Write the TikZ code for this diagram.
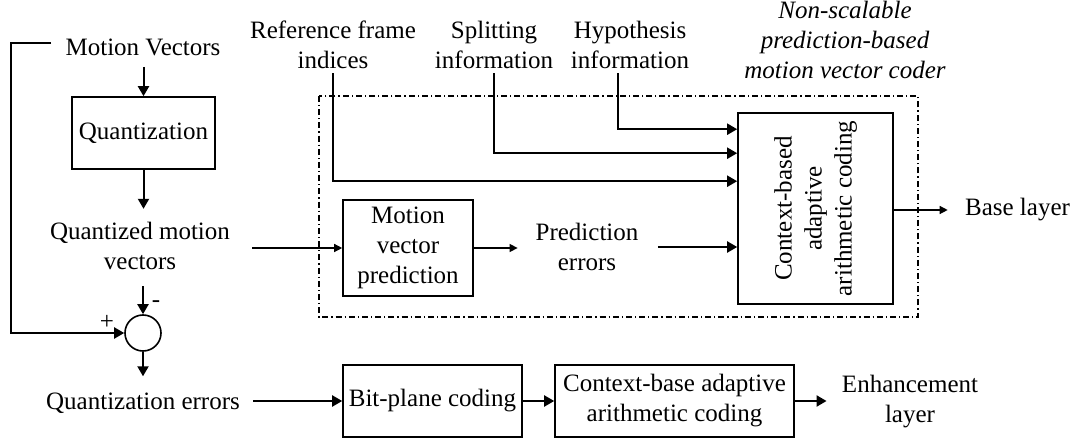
\documentclass[tikz,border=0pt]{standalone}
\usepackage{fontspec}
\setmainfont{Liberation Serif}
\usetikzlibrary{arrows.meta}

\begin{document}
\begin{tikzpicture}[x=0.5pt,y=-0.5pt,
    font=\fontsize{12.5}{15}\selectfont,
    blk/.style={draw,line width=0.8pt,inner sep=2pt,align=center},
    txt/.style={align=center,inner sep=2pt},
    arr/.style={line width=1pt,-{Triangle[length=5pt,width=5.5pt]}},
    arrs/.style={line width=0.65pt,-{Triangle[length=4pt,width=4pt]}},
    frame/.style={line width=0.6pt,dash pattern=on 3pt off 1.5pt on 0.6pt off 1.5pt}]

  \useasboundingbox (0,0) rectangle (1077,443);

  \node[txt] (mv)     at (143,47)    {Motion Vectors};
  \node[blk,minimum width=71.5pt,minimum height=36pt] (quant) at (143.5,133) {Quantization};
  \node[txt] (qmv)    at (140,246)   {Quantized motion\\vectors};
  \node[circle,draw,line width=0.8pt,minimum size=18pt,inner sep=0pt] (sum) at (143,333) {};
  \node[txt] (minus)  at (156,304)   {-};
  \node[txt] (plus)   at (107,322)   {+};
  \node[txt] (qerr)   at (143,403)   {Quantization errors};

  \node[txt] (refidx) at (333,45)    {Reference frame\\indices};
  \node[txt] (split)  at (494,45)    {Splitting\\information};
  \node[txt] (hyp)    at (630,45)    {Hypothesis\\information};
  \node[txt,font=\fontsize{12.5}{15}\selectfont\itshape] (title) at (845,40)
    {Non-scalable\\prediction-based\\motion vector coder};

  \node[blk,minimum width=65pt,minimum height=48pt] (mvp) at (408,248)
    {Motion\\vector\\prediction};
  \node[txt] (prederr) at (587,247)  {Prediction\\errors};
  \node[blk,minimum width=77.5pt,minimum height=95.5pt] (cabac) at (815.5,208.5)
    {\rotatebox{90}{\begin{tabular}{@{}c@{}}Context-based\\adaptive\\arithmetic coding\end{tabular}}};
  \node[txt] (base)   at (1017.5,210) {Base layer};

  \node[blk,minimum width=89.5pt,minimum height=36pt] (bitpl) at (432.5,401) {Bit-plane coding};
  \node[blk,minimum width=119.5pt,minimum height=36pt] (ctxb) at (674.5,401)
    {Context-base adaptive\\arithmetic coding};
  \node[txt] (enh)    at (910,402)   {Enhancement\\layer};

  \draw[frame] (319,96) rectangle (918,317);

  \draw[arr,shorten <=3.5pt] (mv.south -| quant.north) -- (quant.north);
  \draw[arr,shorten >=4.5pt] (quant.south) -- (quant.south |- qmv.north);
  \draw[arr,shorten <=6pt] (sum.north |- qmv.south) -- (sum.north);
  \draw[arr,shorten >=6pt] (sum.south) -- (sum.south |- qerr.north);
  \draw[arr,shorten <=5pt] ([yshift=2pt]mv.west) -- ++(-25pt,0) |- (sum.west);

  \draw[arr] (refidx.south) |- ([yshift=-34.5pt]cabac.north west);
  \draw[arr] (split.south) |- ([yshift=-20.5pt]cabac.north west);
  \draw[arr] ([xshift=-6pt]hyp.south) |- ([yshift=-8.5pt]cabac.north west);

  \draw[arrs,shorten <=9pt] (qmv.east |- mvp.west) -- (mvp.west);
  \draw[arrs,shorten >=6.8pt] (mvp.east) -- (mvp.east -| prederr.west);
  \draw[arr,shorten <=7.5pt] (prederr.east) -- (prederr.east -| cabac.west);
  \draw[arrs,shorten >=6.5pt] (cabac.east |- base.west) -- (base.west);

  \draw[arr,shorten <=4.5pt] (qerr.east |- bitpl.west) -- (bitpl.west);
  \draw[arr] (bitpl) -- (ctxb);
  \draw[arr,shorten >=5.5pt] (ctxb.east) -- (ctxb.east -| enh.west);
\end{tikzpicture}
\end{document}
